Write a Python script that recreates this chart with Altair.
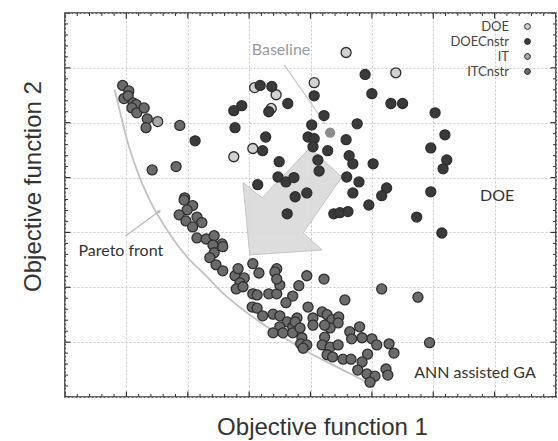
import altair as alt
import pandas as pd
import numpy as np

# ---------------- data (axis units arbitrary: x 0..8, y 0..7) ----------------
doe_x = [4.58, 5.39, 4.06, 3.09, 3.44, 3.36, 3.06, 2.75]
doe_y = [6.28, 5.91, 5.73, 5.64, 5.51, 5.26, 4.53, 4.38]

it_x = [1.51]
it_y = [5.02]

doec_x = [3.18, 3.37, 4.89, 3.63, 3.32, 2.75, 2.88, 2.77, 2.12, 3.27, 3.22, 3.49, 3.47, 3.60,
          3.73, 3.14, 3.75, 3.94, 3.62, 4.06, 5.00, 5.31, 5.50, 6.03, 4.22, 4.76, 4.02, 3.96,
          4.06, 4.58, 6.19, 4.04, 4.28, 5.96, 4.63, 4.69, 5.02, 6.22, 6.16, 4.12, 4.14, 4.59,
          4.79, 5.24, 4.69, 5.16, 5.96, 4.95, 4.38, 4.48, 4.61, 5.73, 6.14]
doec_y = [5.68, 5.66, 5.88, 5.35, 5.20, 5.22, 5.31, 4.91, 4.67, 4.74, 4.49, 4.29, 4.01, 3.92,
          4.00, 3.87, 3.65, 3.72, 3.34, 5.49, 5.53, 5.35, 5.35, 5.18, 5.13, 4.98, 4.96, 4.74,
          4.71, 4.69, 4.78, 4.56, 4.49, 4.54, 4.40, 4.25, 4.25, 4.32, 4.16, 4.32, 4.12, 4.01,
          3.92, 3.81, 3.72, 3.67, 3.74, 3.50, 3.34, 3.36, 3.38, 3.28, 2.99]

itc_x = [0.94, 1.04, 0.96, 1.03, 1.11, 1.16, 1.09, 1.17, 1.29, 1.34, 1.32, 1.87, 1.42, 1.81, 1.95,
         1.94, 2.08, 1.99, 2.15, 2.23, 1.86, 1.97, 2.08, 2.15, 2.30, 2.43, 2.56, 2.57, 2.41, 2.43,
         2.36, 2.46, 2.57, 2.77, 2.82, 2.92, 2.85, 2.79, 2.90, 3.06, 3.16, 3.45, 3.42, 3.06, 3.13,
         3.05, 3.13, 3.22, 3.32, 3.45, 3.50, 3.45, 3.71, 3.60, 3.81, 3.39, 3.50, 3.62, 3.50, 3.71,
         3.78, 3.94, 3.39, 3.55, 3.71, 3.86, 3.84, 3.94, 4.22, 4.56, 5.16, 5.75, 3.96, 3.75, 4.04,
         4.04, 4.19, 4.27, 4.35, 4.46, 4.45, 3.83, 4.32, 4.23, 4.64, 4.80, 4.67, 4.84, 3.88, 4.23,
         4.19, 4.32, 4.45, 5.00, 5.08, 5.28, 5.36, 5.94, 4.27, 4.36, 4.53, 4.66, 4.93, 4.84, 4.77,
         4.92, 5.05, 4.97, 5.23, 5.26]
itc_y = [5.68, 5.58, 5.44, 5.49, 5.36, 5.33, 5.27, 5.18, 5.27, 5.07, 4.91, 4.95, 4.14, 4.20, 3.63,
         3.59, 3.49, 3.41, 3.28, 3.18, 3.32, 3.21, 3.10, 2.90, 2.88, 2.94, 2.79, 2.74, 2.77, 2.63,
         2.54, 2.41, 2.30, 2.21, 2.34, 2.17, 2.08, 1.97, 2.01, 2.43, 2.26, 2.34, 2.28, 1.88, 1.86,
         1.64, 1.62, 1.48, 1.88, 1.88, 2.04, 2.15, 1.84, 1.72, 2.03, 1.51, 1.48, 1.37, 1.28, 1.28,
         1.44, 2.21, 1.17, 1.17, 1.17, 1.08, 0.97, 0.95, 2.15, 1.77, 1.97, 1.82, 1.64, 1.37, 1.44,
         1.31, 1.55, 1.50, 1.41, 1.46, 1.35, 1.26, 1.26, 1.31, 1.19, 1.28, 1.06, 1.08, 0.89, 1.09,
         0.95, 0.91, 0.95, 1.06, 0.95, 0.97, 0.80, 0.99, 0.77, 0.73, 0.69, 0.69, 0.78, 0.64, 0.49,
         0.42, 0.38, 0.27, 0.51, 0.40]

baseline_x = [4.32]
baseline_y = [4.82]

pareto_x = [0.81, 0.90, 1.01, 1.17, 1.38, 1.66, 1.99, 2.28, 2.52, 3.01, 3.50, 4.04, 4.53, 4.92, 5.03]
pareto_y = [5.60, 5.18, 4.69, 4.14, 3.59, 3.05, 2.55, 2.23, 1.95, 1.50, 1.13, 0.77, 0.49, 0.26, 0.18]

arrow_x = [3.99, 3.21, 2.90, 3.01, 4.19, 3.88, 4.51, 3.99]
arrow_y = [4.54, 3.63, 3.91, 2.59, 2.68, 2.99, 4.01, 4.54]

baseline_ptr_x = [3.57, 4.24]
baseline_ptr_y = [6.06, 4.98]
pareto_ptr_x = [0.98, 1.53]
pareto_ptr_y = [2.93, 3.38]

labels_txt = ["Baseline", "DOE", "Pareto front", "ANN assisted GA"]
labels_x = [3.52, 7.04, 0.91, 6.68]
labels_y = [6.33, 3.67, 2.66, 0.44]
labels_col = ["#9a9a9a", "#333333", "#333333", "#333333"]

cats = ["DOE", "DOECnstr", "IT", "ITCnstr"]
cat_fill = ["#d2d2d2", "#3a3a3a", "#a9a9a9", "#6b6b6b"]

major_x = list(range(9))
major_y = list(range(8))

# ---------------- tables ----------------
rows = []
for c, xs_, ys_ in [("DOE", doe_x, doe_y), ("DOECnstr", doec_x, doec_y),
                    ("ITCnstr", itc_x, itc_y), ("IT", it_x, it_y)]:
    for a, b in zip(xs_, ys_):
        rows.append({"cat": c, "x": a, "y": b})
pts = pd.DataFrame(rows)

W, H = 491, 384
xsc = alt.Scale(domain=[0, 8], nice=False, zero=False)
ysc = alt.Scale(domain=[0, 7], nice=False, zero=False)

xaxis = alt.Axis(values=major_x, grid=True, gridDash=[2, 2], gridColor="#c8c8c8", gridWidth=1,
                 labels=False, ticks=False, domain=False, title="Objective function 1",
                 titleFont="Liberation Sans", titleFontSize=24, titleFontWeight="normal",
                 titleColor="#333333", titlePadding=18, titleX=257)
yaxis = alt.Axis(values=major_y, grid=True, gridDash=[2, 2], gridColor="#c8c8c8", gridWidth=1,
                 labels=False, ticks=False, domain=False, title="Objective function 2",
                 titleFont="Liberation Sans", titleFontSize=24, titleFontWeight="normal",
                 titleColor="#333333", titlePadding=20, titleY=173)

X = lambda f="x": alt.X(f"{f}:Q", scale=xsc, axis=xaxis)
Y = lambda f="y": alt.Y(f"{f}:Q", scale=ysc, axis=yaxis)

arrow = alt.Chart(pd.DataFrame({"x": arrow_x, "y": arrow_y, "o": range(len(arrow_x))})).mark_line(
    fill="#d9d9d9", stroke="#c4c4c4", strokeWidth=1, fillOpacity=0.9
).encode(x=X(), y=Y(), order="o:Q")

pareto = alt.Chart(pd.DataFrame({"x": pareto_x, "y": pareto_y})).mark_line(
    color="#c2c2c2", strokeWidth=1.8, interpolate="monotone"
).encode(x=X(), y=Y())

ptr1 = alt.Chart(pd.DataFrame({"x": baseline_ptr_x, "y": baseline_ptr_y})).mark_line(
    color="#c8c8c8", strokeWidth=1.2).encode(x=X(), y=Y())
ptr2 = alt.Chart(pd.DataFrame({"x": pareto_ptr_x, "y": pareto_ptr_y})).mark_line(
    color="#b8b8b8", strokeWidth=1.2).encode(x=X(), y=Y())
ptr2_head = alt.Chart(pd.DataFrame({"x": pareto_ptr_x[-1:], "y": pareto_ptr_y[-1:]})).mark_point(
    shape="triangle", filled=True, color="#b8b8b8", size=18, angle=55, opacity=1
).encode(x=X(), y=Y())

legend = alt.Legend(orient="none", legendX=456, legendY=7, title=None, labelAlign="right",
                    labelOffset={"expr": "-25"}, labelFont="Lato", labelFontSize=13, labelColor="#444444",
                    symbolSize=34, symbolStrokeColor="#2a2a2a", symbolStrokeWidth=1,
                    symbolType="circle", rowPadding=1, padding=0, symbolOpacity=1)

points = alt.Chart(pts).mark_circle(size=100, stroke="#2e2e2e", strokeWidth=1.3, opacity=1).encode(
    x=X(), y=Y(),
    fill=alt.Fill("cat:N", scale=alt.Scale(domain=cats, range=cat_fill), legend=legend),
)

base_pt = alt.Chart(pd.DataFrame({"x": baseline_x, "y": baseline_y})).mark_circle(
    size=105, color="#8c8c8c", opacity=1).encode(x=X(), y=Y())

texts = alt.Chart(pd.DataFrame({"t": labels_txt, "x": labels_x, "y": labels_y, "c": labels_col})).mark_text(
    font="Lato", fontSize=16, align="center", baseline="middle"
).encode(x=X(), y=Y(), text="t:N", color=alt.Color("c:N", scale=None))

# frame ticks (inward; half of each centered tick is clipped away)
minor_x = np.round(np.arange(0, 8.001, 0.2), 3)
minor_y = np.round(np.arange(0, 7.001, 0.2), 3)
tx = pd.DataFrame([{"x": v, "y": e, "major": abs(v - round(v)) < 1e-6} for v in minor_x for e in (0, 7)])
ty = pd.DataFrame([{"x": e, "y": v, "major": abs(v - round(v)) < 1e-6} for v in minor_y for e in (0, 8)])

ticks_x_minor = alt.Chart(tx[~tx.major]).mark_tick(orient="vertical", size=6, thickness=1,
                                                  color="#333333", clip=True, opacity=1).encode(x=X(), y=Y())
ticks_x_major = alt.Chart(tx[tx.major]).mark_tick(orient="vertical", size=11, thickness=1.2,
                                                 color="#333333", clip=True, opacity=1).encode(x=X(), y=Y())
ticks_y_minor = alt.Chart(ty[~ty.major]).mark_tick(orient="horizontal", size=6, thickness=1,
                                                  color="#333333", clip=True, opacity=1).encode(x=X(), y=Y())
ticks_y_major = alt.Chart(ty[ty.major]).mark_tick(orient="horizontal", size=11, thickness=1.2,
                                                 color="#333333", clip=True, opacity=1).encode(x=X(), y=Y())

chart = alt.layer(
    arrow, pareto, ptr1, ptr2, ptr2_head, points, base_pt, texts,
    ticks_x_minor, ticks_x_major, ticks_y_minor, ticks_y_major
).properties(
    width=W, height=H,
    padding={"left": 65, "top": 13, "right": 2, "bottom": 44},
    autosize=alt.AutoSizeParams(type="none"),
    background="white",
).configure_view(stroke="#333333", strokeWidth=1.6)

chart.save("out.html", embed_options={"renderer": "svg", "actions": False})
